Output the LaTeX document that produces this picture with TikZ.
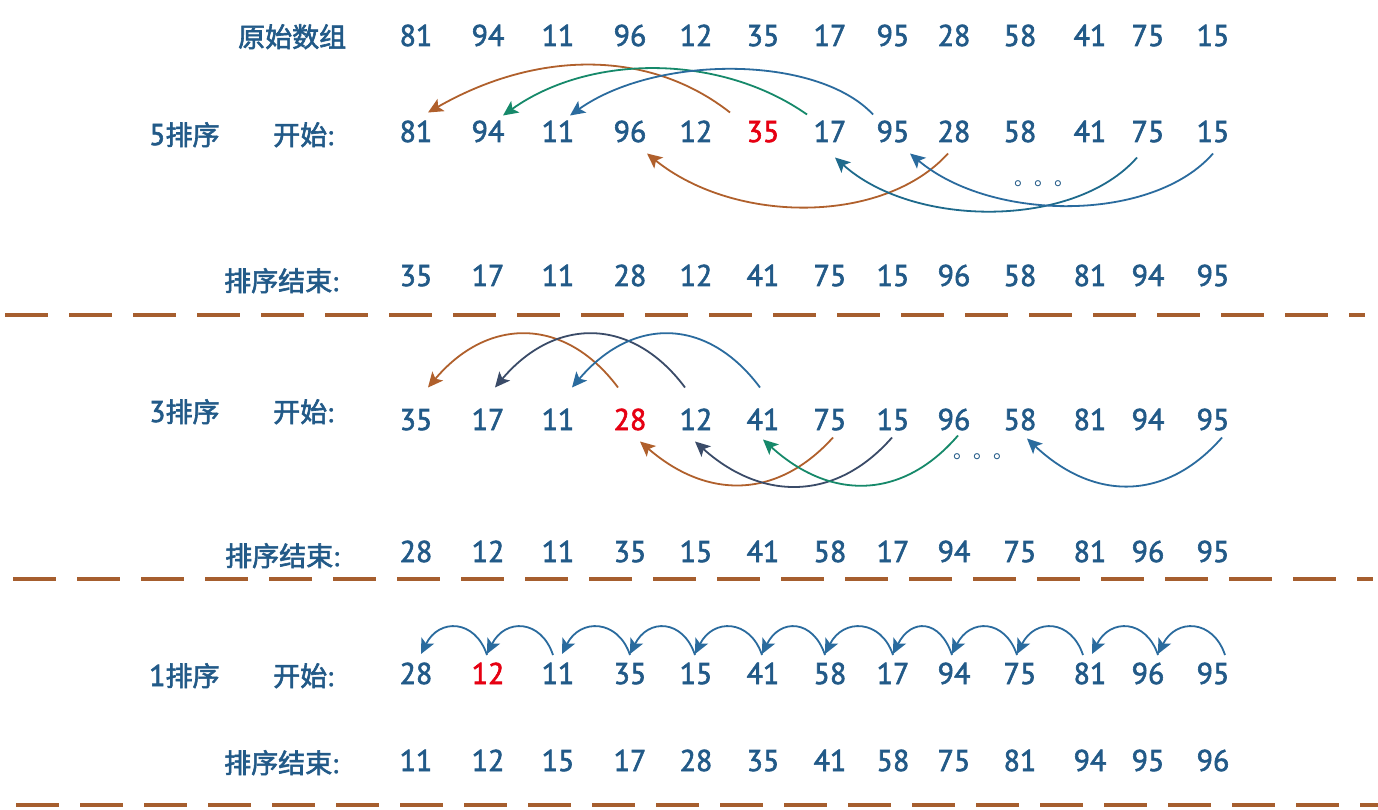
\documentclass[tikz,border=0pt]{standalone}
\usepackage{fontspec}
\setmainfont{PT Sans}
\newfontfamily\cjk{Noto Sans CJK SC}
\usetikzlibrary{arrows.meta,calc}
\definecolor{txt}{HTML}{225A88}
\definecolor{hot}{HTML}{E60012}
\definecolor{abrown}{HTML}{B0602C}
\definecolor{agreen}{HTML}{16896A}
\definecolor{ablue}{HTML}{2A6B9E}
\definecolor{aslate}{HTML}{3A4B68}
\definecolor{ateal}{HTML}{1E6A8C}
\definecolor{sepcol}{HTML}{A65E2E}
\newcommand\numsz{\fontsize{30pt}{30pt}\selectfont}
\newcommand\heavytext{\special{pdf:literal direct 2 Tr 0.6 w}}
\newcommand\mynumrow[4]{%
  \foreach \v [count=\i] in {#4} {%
    \pgfmathsetmacro\xx{{416,488,558,630,696,763,830,893,954,1020,1090,1148,1213}[\i-1]}%
    \ifnum\i=#3\relax\def\cc{hot}\else\def\cc{txt}\fi
    \node[num, text=\cc] (r#1c\i) at (\xx,#2) {\heavytext\v};
  }%
}
\begin{document}
\begin{tikzpicture}[x=1pt,y=-1pt,
  num/.style={inner sep=0pt, anchor=base, text height=21pt, text depth=0pt, font=\numsz},
  lab/.style={inner sep=0pt, anchor=base west, text=txt, font=\fontsize{27pt}{27pt}\selectfont},
  dotsnode/.style={inner sep=0pt, anchor=base west, text=txt, font=\cjk\fontsize{20pt}{20pt}\selectfont},
  arr/.style={line width=1.8pt, -{Stealth[length=15pt,width=14pt,inset=3.5pt]}},
  sepline/.style={line width=4.5pt, draw=sepcol, dash pattern=on 43pt off 21pt}]
\useasboundingbox[fill=white] (0,0) rectangle (1378,810);

% labels
\node[lab] (l0) at (238,47) {\heavytext\cjk 原始数组};
\node[lab] (l1a) at (149,145) {\heavytext{\numsz 5}\cjk 排序};
\node[lab] (l1b) at (273,145) {\heavytext{\cjk 开始}:};
\node[lab] (l2) at (224,291) {\heavytext{\cjk 排序结束}:};
\node[lab] (l3a) at (149,422) {\heavytext{\numsz 3}\cjk 排序};
\node[lab] (l3b) at (273,422) {\heavytext{\cjk 开始}:};
\node[lab] (l4) at (225,566) {\heavytext{\cjk 排序结束}:};
\node[lab] (l5a) at (149,686) {\heavytext{\numsz 1}\cjk 排序};
\node[lab] (l5b) at (273,686) {\heavytext{\cjk 开始}:};
\node[lab] (l6) at (224,773) {\heavytext{\cjk 排序结束}:};

% number rows
\mynumrow{0}{46}{0}{81,94,11,96,12,35,17,95,28,58,41,75,15}
\mynumrow{1}{142}{6}{81,94,11,96,12,35,17,95,28,58,41,75,15}
\mynumrow{2}{286}{0}{35,17,11,28,12,41,75,15,96,58,81,94,95}
\mynumrow{3}{430}{4}{35,17,11,28,12,41,75,15,96,58,81,94,95}
\mynumrow{4}{562}{0}{28,12,11,35,15,41,58,17,94,75,81,96,95}
\mynumrow{5}{684}{2}{28,12,11,35,15,41,58,17,94,75,81,96,95}
\mynumrow{6}{771}{0}{11,12,15,17,28,35,41,58,75,81,94,95,96}

% dots
\node[dotsnode] (d1) at (1014,186) {。。。};
\node[dotsnode] (d3) at (953,458) {。。。};

% gap 5: top arcs
\draw[arr,abrown] ($(r1c6)+(-33,-19)$) .. controls ($(r1c6)+(-113,-82)$) and ($(r1c1)+(122,-82)$) .. ($(r1c1)+(12,-19)$);
\draw[arr,agreen] ($(r1c7)+(-23,-17)$) .. controls ($(r1c7)+(-110,-78)$) and ($(r1c2)+(102,-78)$) .. ($(r1c2)+(15,-16)$);
\draw[arr,ablue] ($(r1c8)+(-20,-17)$) .. controls ($(r1c8)+(-76,-77)$) and ($(r1c3)+(98,-77)$) .. ($(r1c3)+(12,-16)$);
% gap 5: bottom arcs
\draw[arr,abrown] ($(r1c9)+(-6,22)$) .. controls ($(r1c9)+(-70,93)$) and ($(r1c4)+(105,93)$) .. ($(r1c4)+(17,22)$);
\draw[arr,ateal] ($(r1c12)+(-11,26)$) .. controls ($(r1c12)+(-73,97)$) and ($(r1c7)+(84,97)$) .. ($(r1c7)+(5,26)$);
\draw[arr,ablue] ($(r1c13)+(0,22)$) .. controls ($(r1c13)+(-60,91)$) and ($(r1c8)+(99,91)$) .. ($(r1c8)+(17,22)$);

% gap 3: top arcs
\draw[arr,abrown] ($(r3c4)+(-12,-32)$) .. controls ($(r3c4)+(-65,-103)$) and ($(r3c1)+(72,-103)$) .. ($(r3c1)+(12,-32)$);
\draw[arr,aslate] ($(r3c5)+(-11,-32)$) .. controls ($(r3c5)+(-64,-103)$) and ($(r3c2)+(67,-103)$) .. ($(r3c2)+(7,-32)$);
\draw[arr,ablue] ($(r3c6)+(-3,-32)$) .. controls ($(r3c6)+(-56,-103)$) and ($(r3c3)+(74,-103)$) .. ($(r3c3)+(14,-32)$);
% gap 3: bottom arcs
\draw[arr,abrown] ($(r3c7)+(3,18)$) .. controls ($(r3c7)+(-53,80)$) and ($(r3c4)+(77,80)$) .. ($(r3c4)+(10,22)$);
\draw[arr,aslate] ($(r3c8)+(-1,18)$) .. controls ($(r3c8)+(-57,82)$) and ($(r3c5)+(66,82)$) .. ($(r3c5)+(-1,22)$);
\draw[arr,agreen] ($(r3c9)+(4,16)$) .. controls ($(r3c9)+(-52,81)$) and ($(r3c6)+(67,81)$) .. ($(r3c6)+(0,20)$);
\draw[arr,ablue] ($(r3c13)+(9,18)$) .. controls ($(r3c13)+(-47,82)$) and ($(r3c10)+(74,82)$) .. ($(r3c10)+(7,19)$);

% gap 1: neighbour arcs
\foreach \a/\b/\ta/\tb in {13/12/12/10, 12/11/10/2, 11/10/-7/-3, 10/9/-3/-2, 9/8/-2/0, 8/7/0/-5, 7/6/-5/-1, 6/5/-1/-1, 5/4/-1/0, 4/3/0/4, 3/2/-5/-1, 2/1/-1/5}
  \draw[arr,ablue] ($(r5c\a)+(\ta,-18.5)$) .. controls ($(r5c\a)+(\ta-12,-54.5)$) and ($(r5c\b)+(\tb+18,-55.5)$) .. ($(r5c\b)+(\tb,-19.5)$);

% separators
\draw[sepline] (5,315) -- (1365,315);
\draw[sepline] (13,579) -- (1373,579);
\draw[sepline] (16,805) -- (1378,805);
\end{tikzpicture}
\end{document}
